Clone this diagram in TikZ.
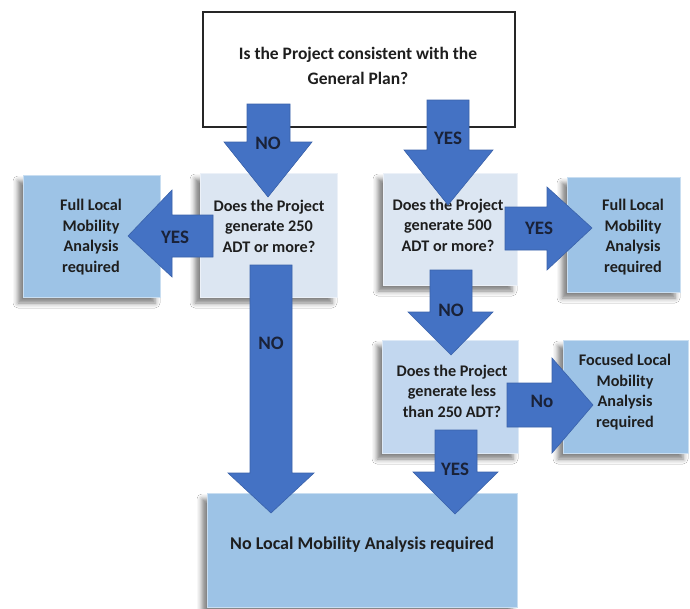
\documentclass[tikz,border=0pt]{standalone}
\usepackage{fontspec}
\setmainfont{Carlito}
\usetikzlibrary{shadows.blur}
\definecolor{paleblue}{HTML}{DCE6F2}
\definecolor{midblue}{HTML}{C2D7EF}
\definecolor{outblue}{HTML}{9DC3E6}
\definecolor{arrblue}{HTML}{4472C4}
\definecolor{arredge}{HTML}{3A62AA}
\definecolor{labcol}{HTML}{1A2238}
\definecolor{txtcol}{HTML}{1E1E1E}
\tikzset{
  box/.style={draw=#1!55!white, line width=0.8pt, fill=#1, inner sep=0pt,
    blur shadow={shadow xshift=-5pt, shadow yshift=-6pt, shadow blur radius=5pt, shadow opacity=50}},
  boxtext/.style={font=\fontsize{16.2}{20.5}\selectfont\bfseries, text=txtcol, align=center},
  blockarrow/.style={fill=arrblue, draw=arredge, line width=0.6pt},
  arrlabel/.style={font=\fontsize{19}{21}\selectfont\bfseries, text=labcol}
}
\begin{document}
\begin{tikzpicture}[x=1pt,y=-1pt]
\useasboundingbox[fill=white] (0,0) rectangle (690,608);
% boxes
\draw[line width=1.2pt, draw=black!85, fill=white] (203,12) rectangle (515,127);
\node (top) [boxtext, font=\fontsize{17.5}{24.5}\selectfont\bfseries] at (358,66) {Is the Project consistent with the\\General Plan?};

\path[box=paleblue] (200,173) rectangle (337,297);
\node (q1) [boxtext] at (269,226) {Does the Project\\generate 250\\ADT or more?};

\path[box=outblue] (23,175) rectangle (160,297);
\node (full1) [boxtext] at (91,237) {Full Local\\Mobility\\Analysis\\required};

\path[box=paleblue] (383,173) rectangle (517,285);
\node (q2) [boxtext] at (448,225) {Does the Project\\generate 500\\ADT or more?};

\path[box=outblue] (567,177) rectangle (680,292);
\node (full2) [boxtext] at (633,237) {Full Local\\Mobility\\Analysis\\required};

\path[box=midblue] (382,340) rectangle (518,453);
\node (q3) [boxtext] at (452,391) {Does the Project\\generate less\\than 250 ADT?};

\path[box=outblue] (563,340) rectangle (688,453);
\node (foc) [boxtext] at (625,392) {Focused Local\\Mobility\\Analysis\\required};

\path[box=outblue] (207,493) rectangle (517,607);
\node (none) [boxtext, font=\fontsize{18}{21}\selectfont\bfseries] at (362,545) {No Local Mobility Analysis required};

% block arrows
% A1 NO down (left)
\draw[blockarrow] (247,104) -- (290,104) -- (290,142) -- (312,142) -- (268,197) -- (224,142) -- (247,142) -- cycle;
\node (l1) [arrlabel] at (268,143) {NO};
% A2 YES down (right)
\draw[blockarrow] (427,100) -- (469,100) -- (469,150) -- (493,150) -- (448,205) -- (404,150) -- (427,150) -- cycle;
\node (l2) [arrlabel] at (448,138) {YES};
% A3 YES left
\draw[blockarrow] (213,215) -- (213,257) -- (172,257) -- (172,277) -- (128,236) -- (172,190) -- (172,215) -- cycle;
\node (l3) [arrlabel] at (175,237) {YES};
% A4 NO long down
\draw[blockarrow] (250,265) -- (292,265) -- (292,473) -- (314,473) -- (271,513) -- (228,473) -- (250,473) -- cycle;
\node (l4) [arrlabel] at (271,343) {NO};
% A5 YES right
\draw[blockarrow] (505,207) -- (547,207) -- (547,187) -- (592,228) -- (547,270) -- (547,250) -- (505,250) -- cycle;
\node (l5) [arrlabel] at (539,228) {YES};
% A6 NO down (right)
\draw[blockarrow] (430,270) -- (472,270) -- (472,312) -- (493,312) -- (451,355) -- (408,312) -- (430,312) -- cycle;
\node (l6) [arrlabel] at (451,310) {NO};
% A7 No right
\draw[blockarrow] (507,383) -- (552,383) -- (552,358) -- (593,405) -- (552,453) -- (552,427) -- (507,427) -- cycle;
\node (l7) [arrlabel] at (542,401) {No};
% A8 YES down bottom
\draw[blockarrow] (435,430) -- (477,430) -- (477,472) -- (498,472) -- (455,514) -- (413,472) -- (435,472) -- cycle;
\node (l8) [arrlabel] at (455,469) {YES};
\end{tikzpicture}
\end{document}
